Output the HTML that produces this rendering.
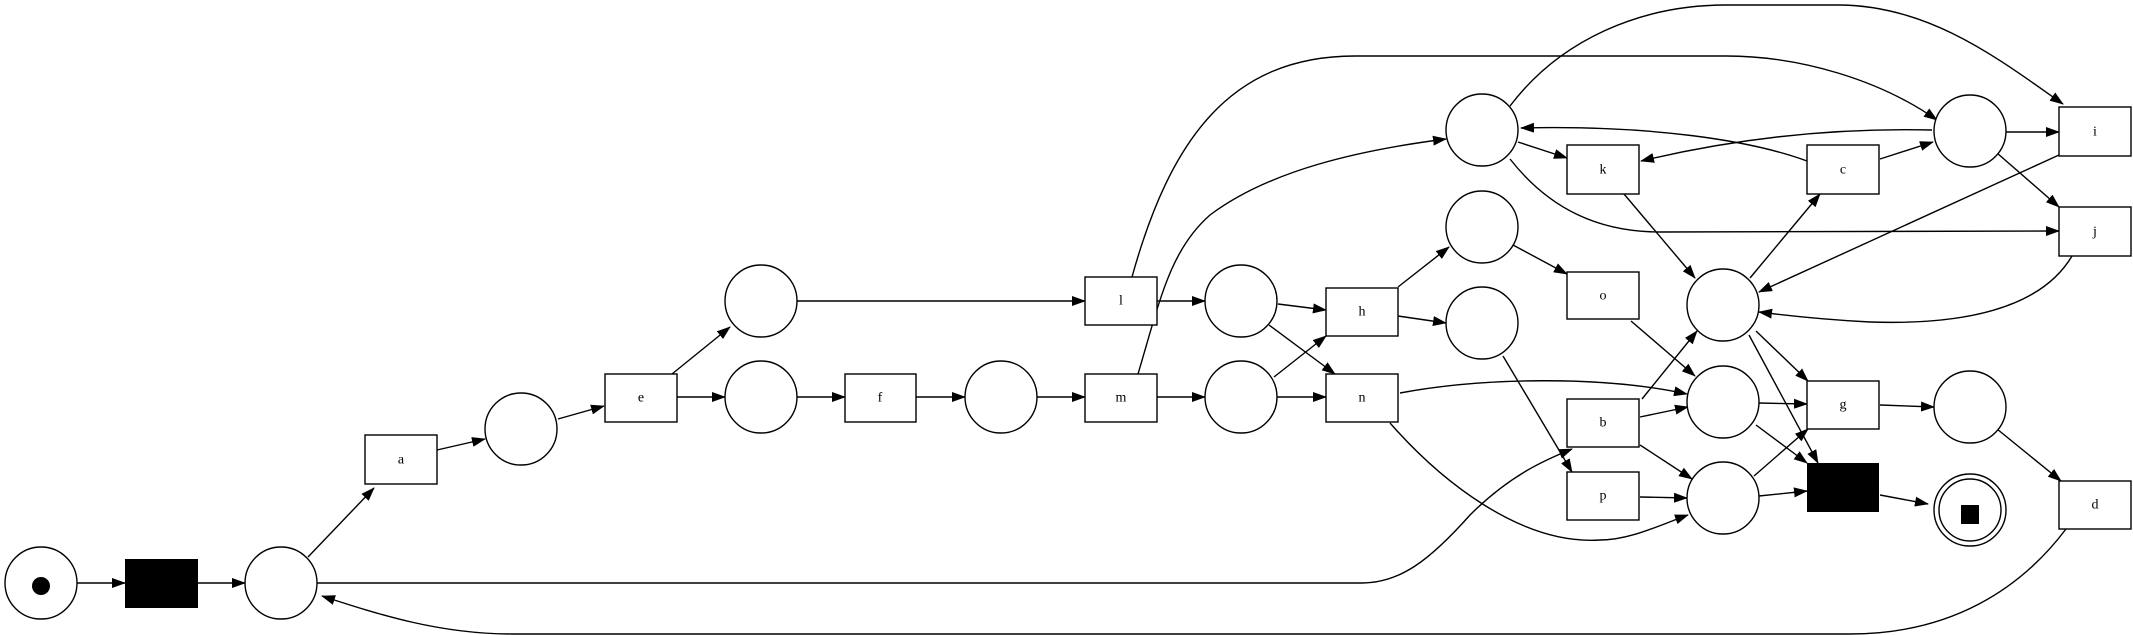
<!DOCTYPE html>
<html><head><meta charset="utf-8"><style>
html,body{margin:0;padding:0;background:#fff;}
svg{display:block;}
text{font-family:"Liberation Serif",serif;font-size:14px;text-anchor:middle;dominant-baseline:central;}
</style></head><body>
<svg width="2133" height="635" viewBox="0 0 2133 635" xmlns="http://www.w3.org/2000/svg">
<defs>
<marker id="ar" markerUnits="userSpaceOnUse" markerWidth="14" markerHeight="10" refX="13" refY="5" orient="auto">
<path d="M0,0 L14,5 L0,10 Z" fill="#000"/>
</marker>
</defs>
<g fill="none" stroke="#000" stroke-width="1.4" marker-end="url(#ar)">
<line x1="77" y1="583" x2="125" y2="583"/>
<line x1="198" y1="583" x2="245" y2="583"/>
<line x1="308" y1="557" x2="374" y2="488"/>
<line x1="437" y1="450" x2="485" y2="439"/>
<line x1="558" y1="419" x2="604" y2="406"/>
<line x1="672" y1="374" x2="730" y2="327"/>
<line x1="677" y1="397" x2="725" y2="397"/>
<line x1="797" y1="301" x2="1085" y2="301"/>
<line x1="797" y1="397" x2="845" y2="397"/>
<line x1="916" y1="397" x2="965" y2="397"/>
<line x1="1037" y1="397" x2="1085" y2="397"/>
<line x1="1157" y1="301" x2="1205" y2="301"/>
<line x1="1157" y1="397" x2="1205" y2="397"/>
<line x1="1278" y1="304" x2="1326" y2="310"/>
<line x1="1269" y1="325" x2="1335" y2="374"/>
<line x1="1274" y1="377" x2="1326" y2="336"/>
<line x1="1277" y1="397" x2="1326" y2="397"/>
<line x1="1398" y1="287" x2="1449" y2="247"/>
<line x1="1398" y1="316" x2="1446" y2="323"/>
<line x1="1513" y1="245" x2="1567" y2="274"/>
<line x1="1631" y1="321" x2="1695" y2="376"/>
<line x1="1503" y1="356" x2="1572" y2="472"/>
<line x1="1518" y1="142" x2="1567" y2="158"/>
<line x1="1880" y1="159" x2="1933" y2="142"/>
<line x1="2006" y1="132" x2="2059" y2="132"/>
<line x1="1997" y1="153" x2="2059" y2="207"/>
<line x1="1624" y1="194" x2="1695" y2="278"/>
<line x1="2059" y1="155" x2="1759" y2="292"/>
<line x1="1750" y1="278" x2="1820" y2="194"/>
<line x1="1756" y1="331" x2="1808" y2="381"/>
<line x1="1749" y1="335" x2="1818" y2="463"/>
<line x1="1642" y1="399" x2="1697" y2="331"/>
<line x1="1640" y1="417" x2="1688" y2="407"/>
<line x1="1640" y1="445" x2="1692" y2="479"/>
<line x1="1640" y1="497" x2="1687" y2="498"/>
<line x1="1759" y1="403" x2="1807" y2="404"/>
<line x1="1756" y1="425" x2="1807" y2="463"/>
<line x1="1754" y1="476" x2="1808" y2="429"/>
<line x1="1759" y1="496" x2="1807" y2="491"/>
<line x1="1880" y1="495" x2="1928" y2="504"/>
<line x1="1880" y1="405" x2="1934" y2="407"/>
<line x1="1997" y1="429" x2="2061" y2="481"/>
<path d="M1132,277 C1170,140 1230,56 1355,56 L1726,56 C1800,56 1880,80 1937,120"/>
<path d="M1138,374 C1160,300 1170,250 1210,215 C1270,170 1360,150 1446,139"/>
<path d="M1400,393 C1480,378 1600,375 1687,394"/>
<path d="M1390,423 C1440,480 1520,545 1600,540 C1630,540 1660,525 1688,515"/>
<path d="M317,583 L1362,583 C1400,583 1430,560 1470,515 C1510,475 1545,460 1572,449"/>
<path d="M2066,529 C2020,590 1950,634 1850,634 L512,634 C440,634 380,615 322,596"/>
<path d="M1510,106 C1560,40 1640,5 1726,5 L1838,5 C1930,5 2000,60 2063,104"/>
<path d="M1510,159 C1550,210 1600,232 1660,232 L2059,231"/>
<path d="M1807,161 C1750,140 1650,125 1521,128"/>
<path d="M1932,130 C1850,128 1750,135 1641,161"/>
<path d="M2072,256 C2040,310 1960,325 1870,322 C1830,320 1790,316 1759,312"/>
</g>
<g fill="#fff" stroke="#000" stroke-width="1.4">
<circle cx="41" cy="583" r="36"/>
<circle cx="281" cy="583" r="36"/>
<circle cx="521" cy="429" r="36"/>
<circle cx="761" cy="301" r="36"/>
<circle cx="761" cy="397" r="36"/>
<circle cx="1001" cy="397" r="36"/>
<circle cx="1241" cy="301" r="36"/>
<circle cx="1241" cy="397" r="36"/>
<circle cx="1482" cy="130" r="36"/>
<circle cx="1482" cy="227" r="36"/>
<circle cx="1482" cy="323" r="36"/>
<circle cx="1723" cy="305" r="36"/>
<circle cx="1723" cy="402" r="36"/>
<circle cx="1723" cy="498" r="36"/>
<circle cx="1970" cy="131" r="36"/>
<circle cx="1970" cy="407" r="36"/>
<circle cx="1970" cy="510" r="36"/>
<circle cx="1970" cy="510" r="31"/>
<rect x="365" y="435" width="72" height="49"/>
<rect x="605" y="374" width="72" height="48"/>
<rect x="845" y="374" width="71" height="48"/>
<rect x="1085" y="277" width="72" height="48"/>
<rect x="1085" y="374" width="72" height="48"/>
<rect x="1326" y="288" width="72" height="48"/>
<rect x="1326" y="374" width="72" height="48"/>
<rect x="1567" y="145" width="72" height="49"/>
<rect x="1567" y="272" width="72" height="47"/>
<rect x="1567" y="399" width="72" height="48"/>
<rect x="1567" y="472" width="72" height="48"/>
<rect x="1807" y="145" width="72" height="49"/>
<rect x="1807" y="381" width="72" height="48"/>
<rect x="2059" y="107" width="72" height="49"/>
<rect x="2059" y="207" width="72" height="49"/>
<rect x="2059" y="481" width="72" height="48"/>
</g>
<rect x="125" y="559" width="73" height="49" fill="#000"/>
<rect x="1807" y="463" width="72" height="49" fill="#000"/>
<circle cx="41" cy="586" r="9" fill="#000"/>
<rect x="1961" y="505" width="18" height="19" fill="#000"/>
<text x="401" y="460">a</text>
<text x="641" y="398">e</text>
<text x="880" y="398">f</text>
<text x="1121" y="301">l</text>
<text x="1121" y="398">m</text>
<text x="1362" y="312">h</text>
<text x="1362" y="398">n</text>
<text x="1603" y="170">k</text>
<text x="1603" y="296">o</text>
<text x="1603" y="423">b</text>
<text x="1603" y="496">p</text>
<text x="1843" y="170">c</text>
<text x="1843" y="405">g</text>
<text x="2095" y="132">i</text>
<text x="2095" y="232">j</text>
<text x="2095" y="505">d</text>
</svg>
</body></html>
